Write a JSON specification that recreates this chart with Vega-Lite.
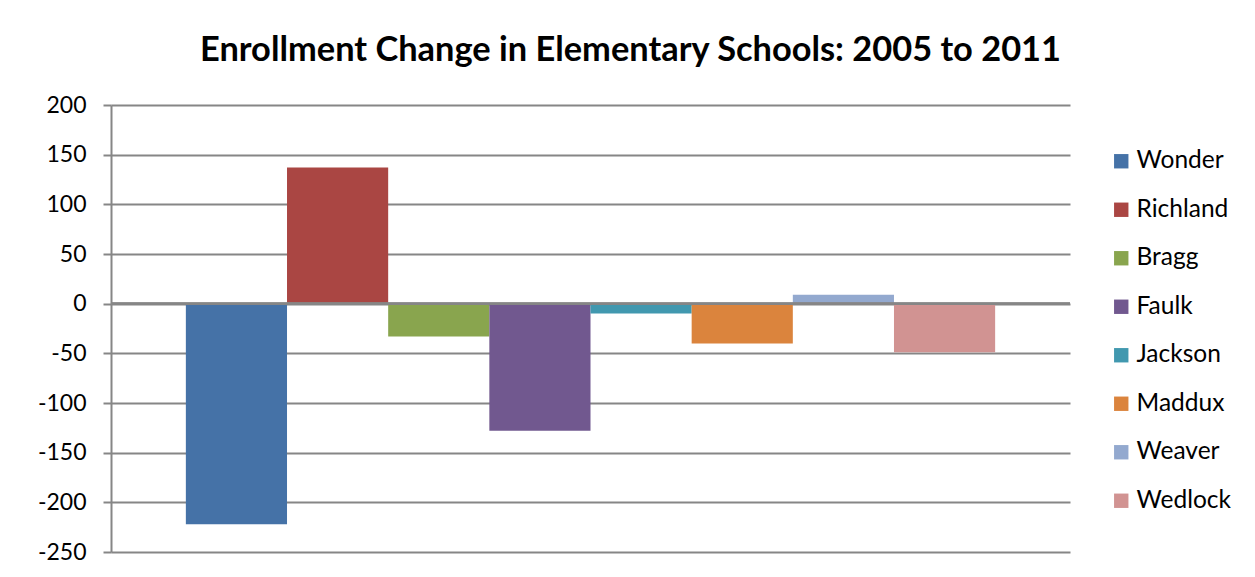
{
  "$schema": "https://vega.github.io/schema/vega-lite/v6.json",
  "width": 959,
  "height": 447,
  "autosize": {"type": "none"},
  "padding": {"left": 111, "top": 105, "right": 185, "bottom": 25},
  "background": "white",
  "title": {
    "text": "Enrollment Change in Elementary Schools: 2005 to 2011",
    "font": "Lato",
    "fontSize": 34.4,
    "fontWeight": "bold",
    "color": "black",
    "anchor": "middle",
    "frame": "group",
    "dx": 40,
    "offset": 26
  },
  "data": {
    "values": [
      {"school": "Wonder", "change": -222},
      {"school": "Richland", "change": 137},
      {"school": "Bragg", "change": -33},
      {"school": "Faulk", "change": -128},
      {"school": "Jackson", "change": -10},
      {"school": "Maddux", "change": -40},
      {"school": "Weaver", "change": 9},
      {"school": "Wedlock", "change": -49}
    ]
  },
  "layer": [
    {
      "mark": {"type": "bar"},
      "encoding": {
        "x": {
          "field": "school",
          "type": "nominal",
          "sort": null,
          "scale": {"paddingInner": 0, "paddingOuter": 0.74},
          "axis": null
        },
        "y": {
          "field": "change",
          "type": "quantitative",
          "scale": {"domain": [-250, 200], "nice": false, "zero": false},
          "axis": {
            "title": null,
            "values": [-250, -200, -150, -100, -50, 0, 50, 100, 150, 200],
            "labelExpr": "replace(datum.label, '\u2212', '-')",
            "grid": true,
            "gridColor": "#868686",
            "gridWidth": 2,
            "domainColor": "#868686",
            "domainWidth": 2,
            "tickColor": "#868686",
            "tickWidth": 2,
            "tickSize": 8,
            "labelFont": "Lato",
            "labelFontSize": 23,
            "labelColor": "black",
            "labelPadding": 17
          }
        },
        "color": {
          "field": "school",
          "type": "nominal",
          "sort": null,
          "scale": {
            "domain": ["Wonder", "Richland", "Bragg", "Faulk", "Jackson", "Maddux", "Weaver", "Wedlock"],
            "range": ["#4572A7", "#AA4643", "#89A54E", "#71588F", "#4198AF", "#DB843D", "#93A9CF", "#D19392"]
          },
          "legend": {
            "title": null,
            "orient": "none",
            "legendX": 998,
            "legendY": 44,
            "padding": 0,
            "symbolType": "square",
            "symbolSize": 207,
            "symbolStrokeWidth": 0,
            "labelFont": "Lato",
            "labelFontSize": 24.5,
            "labelColor": "black",
            "labelOffset": 3,
            "rowPadding": 23.5
          }
        }
      }
    },
    {
      "mark": {"type": "rule", "color": "#868686", "strokeWidth": 2},
      "encoding": {"y": {"datum": 0, "type": "quantitative"}}
    }
  ],
  "config": {"view": {"stroke": null}}
}
